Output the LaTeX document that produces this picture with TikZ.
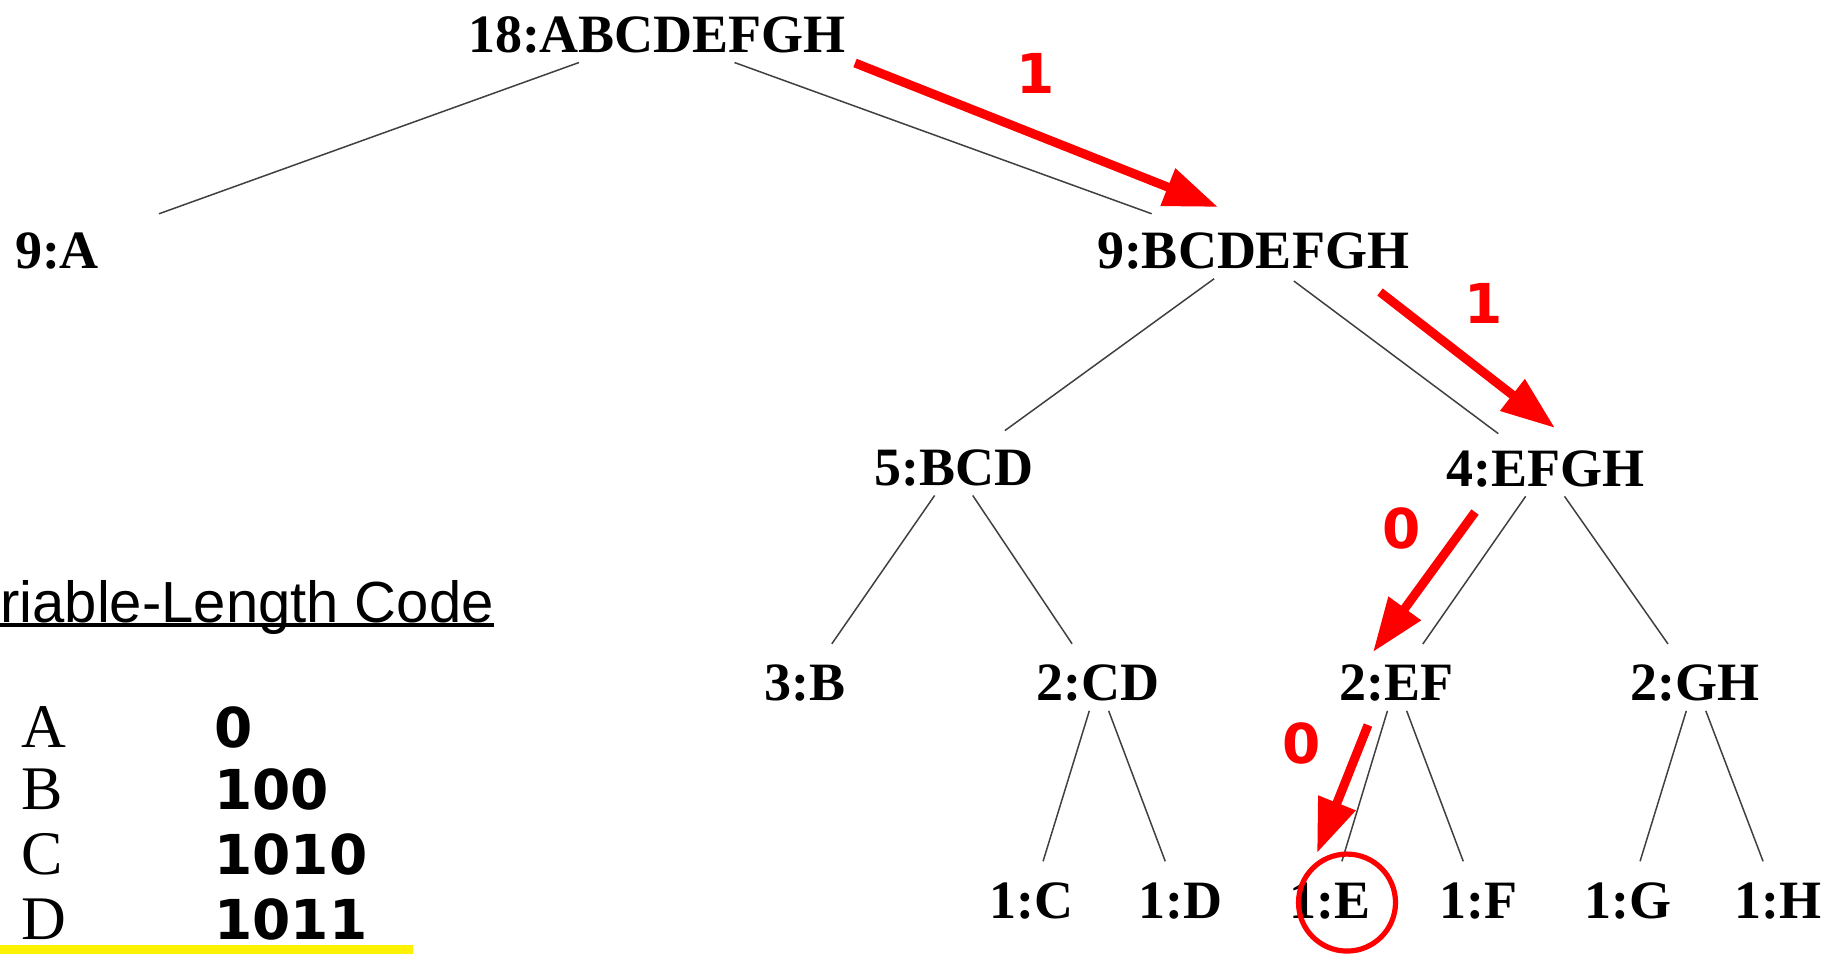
\documentclass[tikz,border=0pt]{standalone}
\usepackage{fontspec}
\setmainfont{Liberation Serif}
\newfontfamily\headfont{Liberation Sans}
\newfontfamily\bitfont{DejaVu Sans}
\usetikzlibrary{calc,arrows.meta}

\tikzset{
  treenode/.style={font=\bfseries\fontsize{27}{32}\selectfont, anchor=base},
  treeline/.style={line width=0.75pt, black!75},
  pathway/.style={red, line width=4.5pt, -{Triangle[length=27pt,width=19pt]}},
  bitlabel/.style={red, font=\bitfont\bfseries\fontsize{27.5}{30}\selectfont},
  letter/.style={font=\fontsize{31}{34}\selectfont, anchor=base west},
  codebits/.style={font=\bitfont\bfseries\fontsize{27.5}{30}\selectfont, anchor=base west},
  ringmark/.style={draw=red, line width=2.6pt, circle, minimum size=48.5pt}
}

\begin{document}
\begin{tikzpicture}[x=0.5pt, y=-0.5pt]
    \tikzstyle{every node}+=[inner sep=0pt]
    \useasboundingbox (0,0) rectangle (1840,954);
    % tree nodes
    \node (root) [treenode] at (657,52) {18:ABCDEFGH};
    \node (nA) [treenode] at (57,268) {9:A};
    \node (nBH) [treenode] at (1253,268) {9:BCDEFGH};
    \node (nBD) [treenode] at (954,485) {5:BCD};
    \node (nEH) [treenode] at (1545,486) {4:EFGH};
    \node (nB) [treenode] at (805,700) {3:B};
    \node (nCD) [treenode] at (1098,700) {2:CD};
    \node (nEF) [treenode] at (1396,700) {2:EF};
    \node (nGH) [treenode] at (1695,700) {2:GH};
    \node (nC) [treenode] at (1031,918) {1:C};
    \node (nD) [treenode] at (1180,918) {1:D};
    \node (nE) [treenode] at (1330,918) {1:E};
    \node (nF) [treenode] at (1478,918) {1:F};
    \node (nG) [treenode] at (1628,918) {1:G};
    \node (nH) [treenode] at (1778,918) {1:H};
    % tree edges
    \draw [treeline] ($(root)!0.13!(nA)$) -- ($(root)!0.83!(nA)$);
    \draw [treeline] ($(root)!0.13!(nBH)$) -- ($(root)!0.83!(nBH)$);
    \draw [treeline] ($(nBH)!0.13!(nBD)$) -- ($(nBH)!0.83!(nBD)$);
    \draw [treeline] ($(nBH)!0.14!(nEH)$) -- ($(nBH)!0.84!(nEH)$);
    \draw [treeline] ($(nBD)!0.13!(nB)$) -- ($(nBD)!0.82!(nB)$);
    \draw [treeline] ($(nBD)!0.13!(nCD)$) -- ($(nBD)!0.82!(nCD)$);
    \draw [treeline] ($(nEH)!0.13!(nEF)$) -- ($(nEH)!0.82!(nEF)$);
    \draw [treeline] ($(nEH)!0.13!(nGH)$) -- ($(nEH)!0.82!(nGH)$);
    \draw [treeline] ($(nCD)!0.13!(nC)$) -- ($(nCD)!0.82!(nC)$);
    \draw [treeline] ($(nCD)!0.13!(nD)$) -- ($(nCD)!0.82!(nD)$);
    \draw [treeline] ($(nEF)!0.13!(nE)$) -- ($(nEF)!0.82!(nE)$);
    \draw [treeline] ($(nEF)!0.13!(nF)$) -- ($(nEF)!0.82!(nF)$);
    \draw [treeline] ($(nGH)!0.13!(nG)$) -- ($(nGH)!0.82!(nG)$);
    \draw [treeline] ($(nGH)!0.13!(nH)$) -- ($(nGH)!0.82!(nH)$);
    % path to E
    \coordinate (p1s) at (855,63);
    \coordinate (p1e) at (1218,207);
    \coordinate (p2s) at (1380,292);
    \coordinate (p2e) at (1555,428);
    \coordinate (p3s) at (1475,512);
    \coordinate (p3e) at (1373,652);
    \coordinate (p4s) at (1368,725);
    \coordinate (p4e) at (1317,853);
    \draw [pathway] (p1s) -- (p1e);
    \draw [pathway] (p2s) -- (p2e);
    \draw [pathway] (p3s) -- (p3e);
    \draw [pathway] (p4s) -- (p4e);
    \node (b1) [bitlabel] at (1036,73) {1};
    \node (b2) [bitlabel] at (1484,303) {1};
    \node (b3) [bitlabel] at (1402,528) {0};
    \node (b4) [bitlabel] at (1302,743) {0};
    \node (ring) [ringmark] at ($(nE)+(17,2)$) {};
    % code table
    \node (head) [font=\headfont\fontsize{29}{34}\selectfont, anchor=base west] at (0,622) {riable-Length Code};
    \draw [line width=2pt] ([yshift=-1.5pt]head.base west) -- ([yshift=-1.5pt]head.base east);
    \node (ka) [letter] at (21,747) {A};
    \node (kb) [letter] at (21,809) {B};
    \node (kc) [letter] at (21,874) {C};
    \node (kd) [letter] at (21,939) {D};
    \node (va) [codebits] at (214,747) {0};
    \node (vb) [codebits] at (214,809) {100};
    \node (vc) [codebits] at (214,874) {1010};
    \node (vd) [codebits] at (214,939) {1011};
    \fill [yellow] (0,945) rectangle (413,954);
\end{tikzpicture}
\end{document}
